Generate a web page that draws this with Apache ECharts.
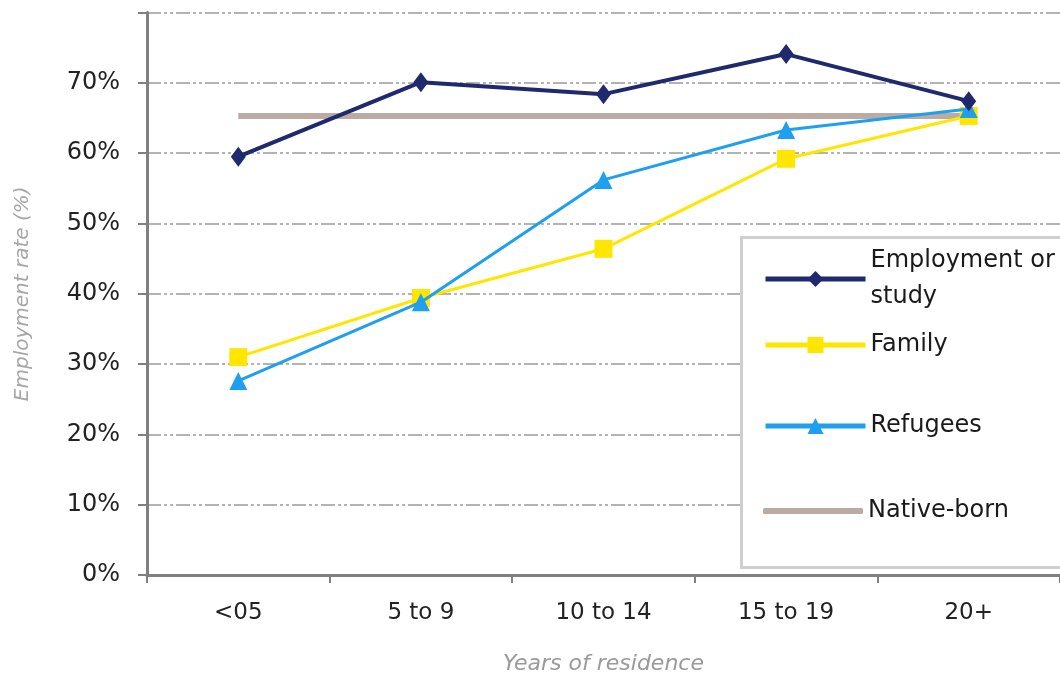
<!DOCTYPE html>
<html>
<head>
<meta charset="utf-8">
<script src="https://cdn.jsdelivr.net/npm/echarts@6/dist/echarts.min.js"></script>
<style>
  html, body { margin: 0; padding: 0; background: #fff; }
  #main { width: 1060px; height: 679px; }
</style>
</head>
<body>
<div id="main"></div>
<script>
// data
var categories = ['<05', '5 to 9', '10 to 14', '15 to 19', '20+'];
var employment = [59.5, 70.1, 68.4, 74.1, 67.4];
var family = [31.0, 39.4, 46.4, 59.2, 65.3];
var refugees = [27.6, 38.8, 56.2, 63.3, 66.3];
var nativeBorn = [65.3, 65.3, 65.3, 65.3, 65.3];
var yTicks = [0, 10, 20, 30, 40, 50, 60, 70, 80];

var chart = echarts.init(document.getElementById('main'));

var font = 'DejaVu Sans';
var legendText = { fontFamily: font, fontSize: 24, color: '#1a1a1a', lineHeight: 36 };

function oneLegend(name, top, icon) {
  var lg = {
    data: [name],
    left: 758,
    top: top,
    itemWidth: 100,
    itemHeight: 20,
    itemGap: 0,
    textStyle: legendText,
    lineStyle: { width: 5 },
    selectedMode: false,
    z: 10
  };
  if (icon) {
    lg.data = [{ name: name, icon: icon }];
    lg.itemHeight = 6;
  }
  return lg;
}

var option = {
  animation: false,
  grid: { left: 147, right: 0, top: 12.6, bottom: 104, outerBoundsMode: 'none', containLabel: false },
  graphic: [{
    type: 'rect',
    left: 740, top: 236,
    shape: { width: 330, height: 330 },
    style: { fill: '#fff', stroke: '#cfcfcf', lineWidth: 3 },
    z: 5
  }],
  legend: [
    oneLegend('Employment or\nstudy', 238),
    oneLegend('Family', 322),
    oneLegend('Refugees', 403),
    oneLegend('Native-born', 488, 'roundRect')
  ],
  xAxis: {
    type: 'category',
    data: categories,
    boundaryGap: true,
    name: 'Years of residence',
    nameLocation: 'middle',
    nameGap: 78,
    nameTextStyle: { fontFamily: font, fontStyle: 'italic', fontSize: 22, color: '#9a9a9a' },
    axisLine: { lineStyle: { color: '#808080', width: 3 } },
    axisTick: { show: true, length: 8, lineStyle: { color: '#808080', width: 2 } },
    axisLabel: { fontFamily: font, fontSize: 23, color: '#222', margin: 27 }
  },
  yAxis: {
    type: 'value',
    min: 0, max: 80, interval: 10,
    name: 'Employment rate (%)',
    nameLocation: 'middle',
    nameGap: 114,
    nameTextStyle: { fontFamily: font, fontStyle: 'italic', fontSize: 20, color: '#a6a6a6' },
    axisLine: { show: true, lineStyle: { color: '#808080', width: 3 } },
    axisTick: { show: true, length: 9, lineStyle: { color: '#808080', width: 2 } },
    axisLabel: {
      fontFamily: font, fontSize: 24, color: '#222', margin: 27,
      formatter: function (v) { return yTicks.indexOf(v) >= 0 && v < 80 ? v + '%' : ''; }
    },
    splitLine: { show: true, lineStyle: { color: '#9a9a9a', width: 1.5, type: [14, 3, 3, 3, 3, 3] } }
  },
  series: [
    {
      name: 'Native-born', type: 'line', data: nativeBorn,
      symbol: 'none', z: 2,
      lineStyle: { color: '#bcaba2', width: 6 },
      itemStyle: { color: '#bcaba2' }
    },
    {
      name: 'Family', type: 'line', data: family,
      symbol: 'rect', symbolSize: 18, z: 3,
      lineStyle: { color: '#ffe600', width: 3 },
      itemStyle: { color: '#ffe600' }
    },
    {
      name: 'Refugees', type: 'line', data: refugees,
      symbol: 'triangle', symbolSize: 18, z: 4,
      lineStyle: { color: '#1e9ff0', width: 3 },
      itemStyle: { color: '#1e9ff0' }
    },
    {
      name: 'Employment or\nstudy', type: 'line', data: employment,
      symbol: 'diamond', symbolSize: [15, 20], z: 5,
      lineStyle: { color: '#1f2a6e', width: 4 },
      itemStyle: { color: '#1f2a6e' }
    }
  ]
};

chart.setOption(option);
</script>
</body>
</html>
